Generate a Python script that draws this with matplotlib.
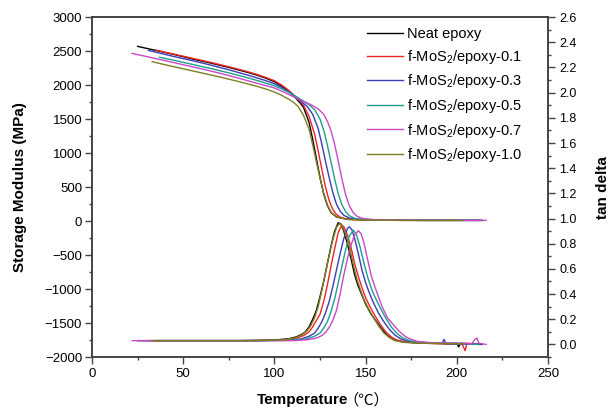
import matplotlib
matplotlib.use("Agg")
import matplotlib.pyplot as plt
from matplotlib.ticker import MultipleLocator, FormatStrFormatter

plt.rcParams['font.family'] = ['Liberation Sans', 'DejaVu Sans']
plt.rcParams['mathtext.fontset'] = 'custom'
plt.rcParams['mathtext.rm'] = 'Liberation Sans'
plt.rcParams['mathtext.it'] = 'Liberation Sans:italic'

labels = ['Neat epoxy', 'f-MoS$_2$/epoxy-0.1', 'f-MoS$_2$/epoxy-0.3',
          'f-MoS$_2$/epoxy-0.5', 'f-MoS$_2$/epoxy-0.7', 'f-MoS$_2$/epoxy-1.0']
colors = ['#000000', '#ee2424', '#3c3cb4', '#1f9e8e', '#c848c8', '#7f7f22']

# storage modulus (MPa)
t_E_neat = [25, 35, 45, 55, 65, 75, 85, 90, 95, 100, 104, 108, 111, 114, 116, 119, 121, 123, 125, 127, 129, 131, 134, 140, 150, 170, 190, 213]
E_neat = [2570, 2510, 2450, 2385, 2325, 2260, 2190, 2150, 2105, 2050, 1985, 1905, 1830, 1740, 1670, 1450, 1200, 920, 640, 400, 230, 125, 60, 25, 15, 10, 10, 10]

t_E_01 = [35, 45, 55, 65, 75, 85, 90, 95, 100, 104, 108, 111, 114, 116, 119, 122, 124, 126, 128, 130, 132, 134, 137, 142, 150, 170, 190, 212]
E_01 = [2515, 2455, 2395, 2335, 2270, 2200, 2160, 2115, 2065, 2000, 1920, 1845, 1765, 1700, 1540, 1280, 1030, 760, 500, 300, 170, 95, 45, 25, 15, 10, 10, 10]

t_E_03 = [31, 45, 55, 65, 75, 85, 90, 95, 100, 104, 108, 111, 114, 118, 121, 124, 126, 128, 130, 132, 134, 136, 138, 141, 146, 155, 180, 214]
E_03 = [2510, 2420, 2360, 2295, 2225, 2150, 2110, 2068, 2020, 1965, 1900, 1840, 1775, 1685, 1570, 1360, 1130, 880, 640, 420, 250, 145, 85, 45, 25, 15, 10, 10]

t_E_05 = [37, 45, 55, 65, 75, 85, 90, 95, 100, 104, 108, 112, 115, 119, 122, 125, 127, 129, 131, 133, 135, 137, 139, 141, 144, 150, 180, 214]
E_05 = [2410, 2365, 2305, 2245, 2180, 2110, 2072, 2032, 1990, 1945, 1892, 1830, 1780, 1710, 1640, 1500, 1340, 1120, 870, 620, 400, 240, 140, 80, 40, 20, 10, 10]

t_E_07 = [22, 30, 40, 50, 60, 70, 80, 90, 95, 100, 105, 110, 115, 120, 124, 127, 129, 131, 133, 135, 137, 139, 141, 143, 145, 148, 155, 180, 216]
E_07 = [2466, 2420, 2360, 2300, 2240, 2175, 2105, 2030, 1995, 1958, 1900, 1835, 1772, 1712, 1650, 1570, 1470, 1330, 1130, 880, 620, 390, 230, 130, 75, 40, 20, 10, 10]

t_E_10 = [33, 40, 50, 60, 70, 80, 90, 95, 100, 104, 108, 111, 113, 116, 119, 121, 123, 125, 127, 129, 131, 134, 140, 150, 180, 203]
E_10 = [2345, 2300, 2240, 2180, 2120, 2055, 1985, 1945, 1898, 1850, 1790, 1735, 1685, 1550, 1350, 1120, 870, 630, 410, 240, 130, 60, 25, 15, 10, 10]

# tan delta
t_tan_neat = [25, 50, 80, 100, 108, 112, 115, 117, 119, 121, 123, 125, 127, 129, 131, 133, 135, 136.5, 138, 140, 142, 144, 146, 148, 150, 153, 156, 159, 162, 165, 170, 180, 195, 200, 201, 202, 213]
tan_neat = [0.03, 0.03, 0.03, 0.035, 0.045, 0.06, 0.08, 0.10, 0.14, 0.20, 0.27, 0.38, 0.50, 0.64, 0.78, 0.90, 0.967, 0.955, 0.90, 0.80, 0.68, 0.55, 0.46, 0.39, 0.32, 0.24, 0.18, 0.12, 0.07, 0.04, 0.02, 0.01, 0.005, 0.01, -0.02, 0.01, 0.0]

t_tan_01 = [35, 60, 90, 105, 112, 116, 119, 121, 123, 125, 127, 129, 131, 133, 135, 136.9, 138, 140, 142, 144, 146, 148, 150, 152, 155, 158, 161, 164, 167, 172, 180, 195, 203, 204.5, 205.5, 212]
tan_01 = [0.03, 0.03, 0.03, 0.035, 0.05, 0.07, 0.10, 0.14, 0.19, 0.24, 0.34, 0.47, 0.62, 0.76, 0.89, 0.948, 0.935, 0.87, 0.77, 0.64, 0.54, 0.45, 0.37, 0.31, 0.23, 0.16, 0.10, 0.06, 0.035, 0.02, 0.01, 0.005, 0.0, -0.05, 0.01, 0.0]

t_tan_03 = [30, 60, 90, 108, 115, 119, 122, 124, 126, 128, 130, 132, 134, 136, 138, 140, 141.1, 142.5, 144, 146, 148, 150, 152, 154, 157, 160, 163, 166, 169, 174, 185, 192, 193, 194, 214]
tan_03 = [0.03, 0.03, 0.03, 0.033, 0.045, 0.065, 0.09, 0.13, 0.18, 0.25, 0.34, 0.46, 0.59, 0.72, 0.84, 0.92, 0.935, 0.91, 0.84, 0.72, 0.59, 0.49, 0.41, 0.34, 0.25, 0.18, 0.12, 0.075, 0.045, 0.02, 0.01, 0.01, 0.04, 0.005, 0.0]

t_tan_05 = [37, 60, 90, 110, 118, 122, 125, 127, 129, 131, 133, 135, 137, 139, 141, 143.3, 145, 147, 149, 151, 153, 155, 158, 161, 164, 167, 170, 174, 180, 195, 212]
tan_05 = [0.03, 0.03, 0.03, 0.033, 0.045, 0.065, 0.09, 0.13, 0.18, 0.26, 0.36, 0.49, 0.62, 0.75, 0.86, 0.908, 0.87, 0.77, 0.65, 0.54, 0.45, 0.38, 0.29, 0.21, 0.14, 0.09, 0.055, 0.03, 0.015, 0.01, 0.0]

t_tan_07 = [22, 50, 90, 110, 118, 123, 126, 128, 130, 132, 134, 136, 138, 140, 142, 144, 146, 147.5, 149, 151, 153, 155, 157, 159, 162, 165, 168, 171, 174, 178, 185, 200, 208, 210, 211, 212, 216]
tan_07 = [0.03, 0.03, 0.03, 0.03, 0.037, 0.05, 0.07, 0.095, 0.135, 0.19, 0.27, 0.40, 0.55, 0.68, 0.79, 0.87, 0.903, 0.88, 0.81, 0.68, 0.55, 0.46, 0.38, 0.30, 0.21, 0.16, 0.11, 0.07, 0.045, 0.025, 0.015, 0.01, 0.005, 0.04, 0.05, 0.01, 0.0]

t_tan_10 = [33, 60, 90, 105, 111, 115, 118, 120, 122, 124, 126, 128, 130, 132, 134, 135.7, 137, 139, 141, 143, 145, 147, 149, 151, 154, 157, 160, 163, 166, 172, 180, 203]
tan_10 = [0.03, 0.03, 0.03, 0.035, 0.05, 0.075, 0.11, 0.15, 0.21, 0.30, 0.43, 0.57, 0.71, 0.83, 0.93, 0.96, 0.945, 0.88, 0.78, 0.65, 0.53, 0.44, 0.36, 0.30, 0.22, 0.15, 0.09, 0.055, 0.03, 0.015, 0.01, 0.005]

E_series = [(t_E_neat, E_neat), (t_E_01, E_01), (t_E_03, E_03),
            (t_E_05, E_05), (t_E_07, E_07), (t_E_10, E_10)]
tan_series = [(t_tan_neat, tan_neat), (t_tan_01, tan_01), (t_tan_03, tan_03),
              (t_tan_05, tan_05), (t_tan_07, tan_07), (t_tan_10, tan_10)]

fig = plt.figure(figsize=(6.09, 4.08), dpi=100)
ax = fig.add_axes([0.151, 0.125, 0.749, 0.833])
ax2 = ax.twinx()

for (t, e), (tt, td), lab, c in zip(E_series, tan_series, labels, colors):
    ax.plot(t, e, color=c, lw=1.0, label=lab)
    ax2.plot(tt, td, color=c, lw=1.0)

ax.set_xlim(0, 250)
ax.set_ylim(-2000, 3000)
ax2.set_ylim(-0.1, 2.6)

ax.xaxis.set_major_locator(MultipleLocator(50))
ax.xaxis.set_minor_locator(MultipleLocator(25))
ax.yaxis.set_major_locator(MultipleLocator(500))
ax.yaxis.set_minor_locator(MultipleLocator(250))
ax2.yaxis.set_major_locator(MultipleLocator(0.2))
ax2.yaxis.set_minor_locator(MultipleLocator(0.1))
ax2.yaxis.set_major_formatter(FormatStrFormatter('%.1f'))

spine_c = '#444444'
for a in (ax, ax2):
    for s in a.spines.values():
        s.set_color(spine_c)
        s.set_linewidth(1.2)
ax.tick_params(which='major', direction='out', length=5, width=1, color=spine_c,
               labelsize=9.5, pad=2, top=False, right=False)
ax.tick_params(which='minor', direction='out', length=2.5, width=1, color=spine_c,
               top=False, right=False)
ax.tick_params(axis='x', pad=3)
ax2.tick_params(which='major', direction='out', length=5, width=1, color=spine_c,
                labelsize=9, pad=3)
ax2.tick_params(which='minor', direction='out', length=2.5, width=1, color=spine_c)

ax.set_ylabel('Storage Modulus (MPa)', fontsize=11, fontweight='bold', labelpad=13)
ax2.set_ylabel('tan delta', fontsize=11, fontweight='bold', labelpad=14)
ax.set_xlabel('Temperature', fontsize=11, fontweight='bold')
ax.xaxis.set_label_coords(0.4616, -0.126)
ax.xaxis.label.set_va('center')
ax.text(0.601, -0.126, '（℃）', transform=ax.transAxes, fontsize=11,
        family=['Noto Sans CJK SC', 'DejaVu Sans'], ha='center', va='center')

ax.legend(loc='upper left', bbox_to_anchor=(0.602, 0.97), frameon=False,
          fontsize=10.5, handlelength=2.5, handletextpad=0.3, labelspacing=0.45,
          borderpad=0, borderaxespad=0)

fig.savefig('out.png', dpi=100)
